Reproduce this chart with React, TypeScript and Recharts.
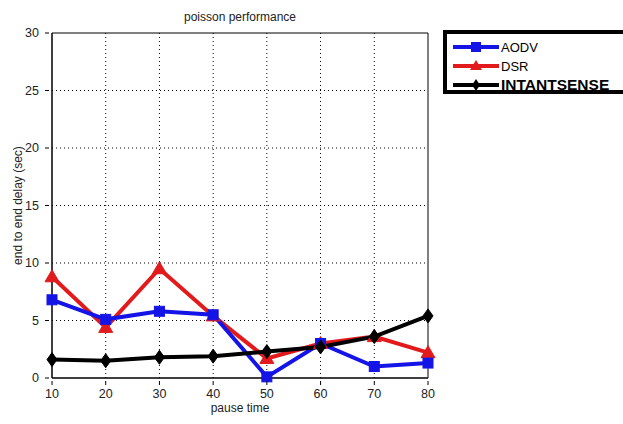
import React from 'react';
import { LineChart, Line, XAxis, YAxis, CartesianGrid, ReferenceArea } from 'recharts';

const pauseTimes = [10, 20, 30, 40, 50, 60, 70, 80];
const aodv = [6.8, 5.1, 5.8, 5.5, 0.1, 3.0, 1.0, 1.3];
const dsr = [8.8, 4.4, 9.5, 5.4, 1.7, 3.0, 3.6, 2.2];
const intantsense = [1.6, 1.5, 1.8, 1.9, 2.3, 2.7, 3.6, 5.4];
const xTicks = [10, 20, 30, 40, 50, 60, 70, 80];
const yTicks = [0, 5, 10, 15, 20, 25, 30];

const data = pauseTimes.map((p, i) => ({ p, aodv: aodv[i], dsr: dsr[i], intantsense: intantsense[i] }));

const BLUE = '#1414e6';
const RED = '#e31a1c';
const BLACK = '#000000';
const FONT = 'Arial, "Liberation Sans", sans-serif';

const Square = (props: any) => {
  const { cx, cy } = props;
  if (cx == null || cy == null) return null;
  return <rect key={`s${cx}`} x={cx - 5} y={cy - 5} width={10} height={10} fill={BLUE} stroke={BLUE} />;
};
const Tri = (props: any) => {
  const { cx, cy } = props;
  if (cx == null || cy == null) return null;
  return <polygon key={`t${cx}`} points={`${cx},${cy - 7} ${cx + 7},${cy + 5} ${cx - 7},${cy + 5}`} fill={RED} stroke={RED} />;
};
const Diamond = (props: any) => {
  const { cx, cy } = props;
  if (cx == null || cy == null) return null;
  return <polygon key={`d${cx}`} points={`${cx},${cy - 7} ${cx + 5},${cy} ${cx},${cy + 7} ${cx - 5},${cy}`} fill={BLACK} stroke={BLACK} />;
};

const XTick = (props: any) => {
  const { x, y, payload } = props;
  return (
    <g>
      <line x1={x} y1={y - 1} x2={x} y2={y - 5} stroke="#000" />
      <text x={x} y={y + 12} textAnchor="middle" fontSize={12.5} fontFamily={FONT} fill="#222">{payload.value}</text>
    </g>
  );
};
const YTick = (props: any) => {
  const { x, y, payload } = props;
  return (
    <g>
      <line x1={x + 1} y1={y} x2={x + 5} y2={y} stroke="#000" />
      <text x={x - 5} y={y + 4} textAnchor="end" fontSize={12.5} fontFamily={FONT} fill="#222">{payload.value}</text>
    </g>
  );
};

const LegendBox = () => {
  const items = [
    { name: 'AODV', color: BLUE, shape: 'sq', bold: false, size: 13 },
    { name: 'DSR', color: RED, shape: 'tri', bold: false, size: 13 },
    { name: 'INTANTSENSE', color: BLACK, shape: 'dia', bold: true, size: 15.5 },
  ];
  return (
    <svg width={190} height={64} style={{ display: 'block' }}>
      <rect x={2} y={2} width={200} height={60} fill="#fff" stroke="#000" strokeWidth={4} />
      {items.map((it, i) => {
        const cy = 17 + i * 19;
        return (
          <g key={it.name}>
            <line x1={10} y1={cy} x2={56} y2={cy} stroke={it.color} strokeWidth={4} />
            {it.shape === 'sq' && <rect x={28} y={cy - 5} width={10} height={10} fill={it.color} />}
            {it.shape === 'tri' && <polygon points={`${33},${cy - 6} ${39},${cy + 4} ${27},${cy + 4}`} fill={it.color} />}
            {it.shape === 'dia' && <polygon points={`${33},${cy - 6} ${37},${cy} ${33},${cy + 6} ${29},${cy}`} fill={it.color} />}
            <text x={58} y={cy + 5} fontSize={it.size} fontFamily={FONT} fontWeight={it.bold ? 'bold' : 'normal'} fill="#000">{it.name}</text>
          </g>
        );
      })}
    </svg>
  );
};

export default function App() {
  return (
    <div style={{ position: 'absolute', left: 0, top: 0, width: 623, height: 424, background: '#fff', overflow: 'hidden' }}>
      <div style={{ position: 'absolute', left: 180, top: 10, width: 120, textAlign: 'center', fontFamily: FONT, fontSize: 12, color: '#222', whiteSpace: 'nowrap' }}>
        poisson performance
      </div>
      <div style={{ position: 'absolute', left: 210, top: 401, width: 60, textAlign: 'center', fontFamily: FONT, fontSize: 12, color: '#222', whiteSpace: 'nowrap' }}>
        pause time
      </div>
      <div style={{ position: 'absolute', left: 443, top: 30, width: 180, height: 64, overflow: 'hidden' }}>
        <LegendBox />
      </div>
      <LineChart width={623} height={424} data={data} margin={{ top: 33, right: 195, bottom: 0, left: 0 }}>
        <CartesianGrid stroke="#000" strokeDasharray="1 3" horizontalValues={[5, 10, 15, 20, 25]} verticalValues={[20, 30, 40, 50, 60, 70]} />
        <XAxis dataKey="p" type="number" domain={[10, 80]} ticks={xTicks} height={46} tick={<XTick />} tickLine={false} axisLine={{ stroke: '#000' }} interval={0} />
        <YAxis type="number" domain={[0, 30]} ticks={yTicks} width={52} tick={<YTick />} tickLine={false} axisLine={{ stroke: '#000' }} interval={0}
          label={{ value: 'end to end delay (sec)', angle: -90, position: 'insideLeft', offset: 18, style: { fontFamily: FONT, fontSize: 12, fill: '#222', textAnchor: 'middle' } }} />
        <ReferenceArea x1={10} x2={80} y1={0} y2={30} fill="none" stroke="#000" strokeWidth={1} ifOverflow="visible" />
        <Line dataKey="dsr" stroke={RED} strokeWidth={4} dot={Tri} isAnimationActive={false} />
        <Line dataKey="aodv" stroke={BLUE} strokeWidth={4} dot={Square} isAnimationActive={false} />
        <Line dataKey="intantsense" stroke={BLACK} strokeWidth={4} dot={Diamond} isAnimationActive={false} />
      </LineChart>
    </div>
  );
}
